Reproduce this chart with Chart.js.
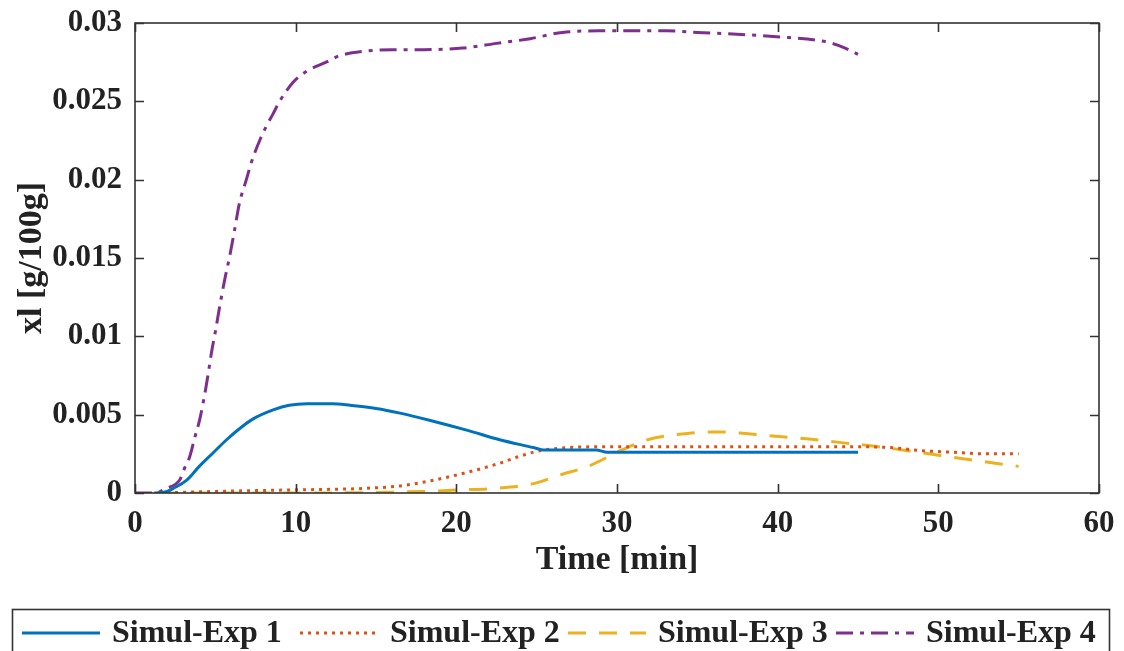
<!DOCTYPE html>
<html>
<head>
<meta charset="utf-8">
<title>Simul-Exp xl</title>
<script src="https://cdn.jsdelivr.net/npm/chart.js@4.4.1/dist/chart.umd.min.js"></script>
<style>
  html, body { margin: 0; padding: 0; background: #fff; }
  canvas { display: block; }
</style>
</head>
<body>
<canvas id="myChart" width="1124" height="651"></canvas>
<script>
"use strict";

// axis ticks
const xTicks = [0, 10, 20, 30, 40, 50, 60];
const yTicks = [0, 0.005, 0.01, 0.015, 0.02, 0.025, 0.03];
const yLabels = ["0", "0.005", "0.01", "0.015", "0.02", "0.025", "0.03"];

const names = ["Simul-Exp 1", "Simul-Exp 2", "Simul-Exp 3", "Simul-Exp 4"];

// Simul-Exp 1
const t1 = [1.2, 2, 2.4, 3.2, 4, 4.9, 5.7, 6.5, 7.3, 8.6, 9.6, 10.7, 12.3, 13.4, 15, 16.5, 18.5, 20.7, 22.7, 24.8, 25.4, 28.7, 29.4, 45];
const v1 = [0, 0.0001, 0.0003, 0.0008, 0.0017, 0.0026, 0.0034, 0.0041, 0.0047, 0.0053, 0.0056, 0.0057, 0.0057, 0.0056, 0.0054, 0.0051, 0.0046, 0.0040, 0.0034, 0.0029, 0.00275, 0.00275, 0.0026, 0.0026];

// Simul-Exp 2
const t2 = [1.5, 5, 10, 13, 14.4, 16.5, 18.5, 20.6, 22.7, 23.8, 25.2, 27, 28.7, 35, 45, 47, 49, 51, 53, 55];
const v2 = [0, 0.0001, 0.0002, 0.00025, 0.0003, 0.00045, 0.0008, 0.0013, 0.0019, 0.0023, 0.0027, 0.0029, 0.00295, 0.00296, 0.00295, 0.0029, 0.0027, 0.0026, 0.0025, 0.0025];

// Simul-Exp 3
const t3 = [1.5, 10, 18, 20.2, 22.5, 24.8, 26.6, 28.2, 30.2, 31.9, 34.4, 36.4, 38, 40.1, 42.4, 44.1, 45.9, 48.1, 50.1, 52.1, 54.3, 55];
const v3 = [0, 0, 0.0001, 0.0002, 0.0003, 0.0006, 0.0012, 0.0017, 0.0027, 0.0034, 0.0038, 0.0039, 0.0038, 0.0036, 0.0034, 0.0032, 0.003, 0.0027, 0.0024, 0.0021, 0.0018, 0.0017];

// Simul-Exp 4
const t4 = [0, 1.2, 1.95, 2.78, 3.09, 3.4, 3.71, 4.03, 4.34, 4.54, 4.75, 5.02, 5.27, 5.58, 5.89, 6.2, 6.5, 6.93, 7.24, 7.76, 8.17, 8.59, 9.0, 9.83, 10.66, 11.9, 12.7, 14.3, 16, 18, 20.4, 22.5, 24.6, 26.6, 28.9, 30.8, 33.1, 35, 37.2, 40.3, 42.4, 43.4, 44.2, 45];
const v4 = [0, 0, 0.0003, 0.00083, 0.0016, 0.0023, 0.0035, 0.0047, 0.0063, 0.0075, 0.0089, 0.0104, 0.0119, 0.0136, 0.0151, 0.0168, 0.0185, 0.02, 0.0211, 0.0225, 0.0234, 0.0242, 0.025, 0.0262, 0.0269, 0.0275, 0.0279, 0.0282, 0.0283, 0.0283, 0.0284, 0.0287, 0.029, 0.0294, 0.0295, 0.0295, 0.0295, 0.0294, 0.0293, 0.0291, 0.0289, 0.0287, 0.0284, 0.028];

const colors = ["#0072BD", "#D95319", "#EDB120", "#7E2F8E"];
const dashes = [[], [3, 5], [18, 13], [17, 7, 4, 7]];

const serif = "'Liberation Serif', 'Times New Roman', serif";
const ink = "#222";

function pts(t, v) {
  return t.map((x, i) => ({ x: x, y: v[i] }));
}

const series = [pts(t1, v1), pts(t2, v2), pts(t3, v3), pts(t4, v4)];

// box around the axes with inward tick marks, like matlab
const frame = {
  id: "frame",
  afterDatasetsDraw(chart) {
    const { ctx, chartArea: a, scales } = chart;
    const len = 9;
    ctx.save();
    ctx.strokeStyle = "#333";
    ctx.lineWidth = 1.6;
    ctx.strokeRect(a.left, a.top, a.right - a.left, a.bottom - a.top);
    ctx.beginPath();
    xTicks.forEach(v => {
      const px = Math.round(scales.x.getPixelForValue(v)) + 0.5;
      ctx.moveTo(px, a.bottom); ctx.lineTo(px, a.bottom - len);
      ctx.moveTo(px, a.top); ctx.lineTo(px, a.top + len);
    });
    yTicks.forEach(v => {
      const py = Math.round(scales.y.getPixelForValue(v)) + 0.5;
      ctx.moveTo(a.left, py); ctx.lineTo(a.left + len, py);
      ctx.moveTo(a.right, py); ctx.lineTo(a.right - len, py);
    });
    ctx.stroke();
    ctx.restore();
  }
};

// legend in one row at the bottom
const legendRow = {
  id: "legendRow",
  afterDraw(chart) {
    const ctx = chart.ctx;
    const slots = [22, 300, 568, 836];
    const y = 633;
    ctx.save();
    ctx.strokeStyle = "#333";
    ctx.lineWidth = 1.6;
    ctx.strokeRect(12.5, 609.5, 1097, 50);
    ctx.font = "bold 32px " + serif;
    ctx.fillStyle = ink;
    ctx.textBaseline = "middle";
    chart.data.datasets.forEach((ds, i) => {
      const x0 = slots[i];
      ctx.beginPath();
      ctx.strokeStyle = ds.borderColor;
      ctx.lineWidth = ds.borderWidth;
      ctx.setLineDash(ds.borderDash);
      ctx.moveTo(x0, y);
      ctx.lineTo(x0 + 78, y);
      ctx.stroke();
      ctx.setLineDash([]);
      ctx.fillText(ds.label, x0 + 90, y + 1);
    });
    ctx.restore();
  }
};

const ctx = document.getElementById("myChart").getContext("2d");

const chart = new Chart(ctx, {
  type: "line",
  data: {
    datasets: series.map((d, i) => ({
      label: names[i],
      data: d,
      borderColor: colors[i],
      backgroundColor: colors[i],
      borderWidth: 3,
      borderDash: dashes[i],
      pointRadius: 0,
      fill: false,
      cubicInterpolationMode: "monotone"
    }))
  },
  options: {
    responsive: false,
    animation: false,
    layout: { padding: { left: 8, top: 23, right: 25, bottom: 66 } },
    plugins: {
      legend: { display: false },
      tooltip: { enabled: false }
    },
    scales: {
      x: {
        type: "linear",
        min: 0,
        max: 60,
        afterBuildTicks: s => { s.ticks = xTicks.map(v => ({ value: v })); },
        afterFit: s => { s.height = 92; s.paddingLeft = 0; s.paddingRight = 0; },
        grid: { display: false, drawTicks: false },
        border: { display: false },
        ticks: {
          padding: 12,
          color: ink,
          font: { family: serif, weight: "bold", size: 31 },
          maxRotation: 0
        },
        title: {
          display: true,
          text: "Time [min]",
          color: ink,
          padding: { top: 4, bottom: 4 },
          font: { family: serif, weight: "bold", size: 34 }
        }
      },
      y: {
        min: 0,
        max: 0.03,
        afterBuildTicks: s => { s.ticks = yTicks.map(v => ({ value: v })); },
        afterFit: s => { s.width = 127; s.paddingTop = 0; s.paddingBottom = 0; },
        grid: { display: false, drawTicks: false },
        border: { display: false },
        ticks: {
          padding: 13,
          color: ink,
          font: { family: serif, weight: "bold", size: 31 },
          callback: (val, i) => yLabels[i]
        },
        title: {
          display: true,
          text: "xl [g/100g]",
          color: ink,
          padding: { top: 4, bottom: 4 },
          font: { family: serif, weight: "bold", size: 34 }
        }
      }
    }
  },
  plugins: [frame, legendRow]
});
</script>
</body>
</html>
